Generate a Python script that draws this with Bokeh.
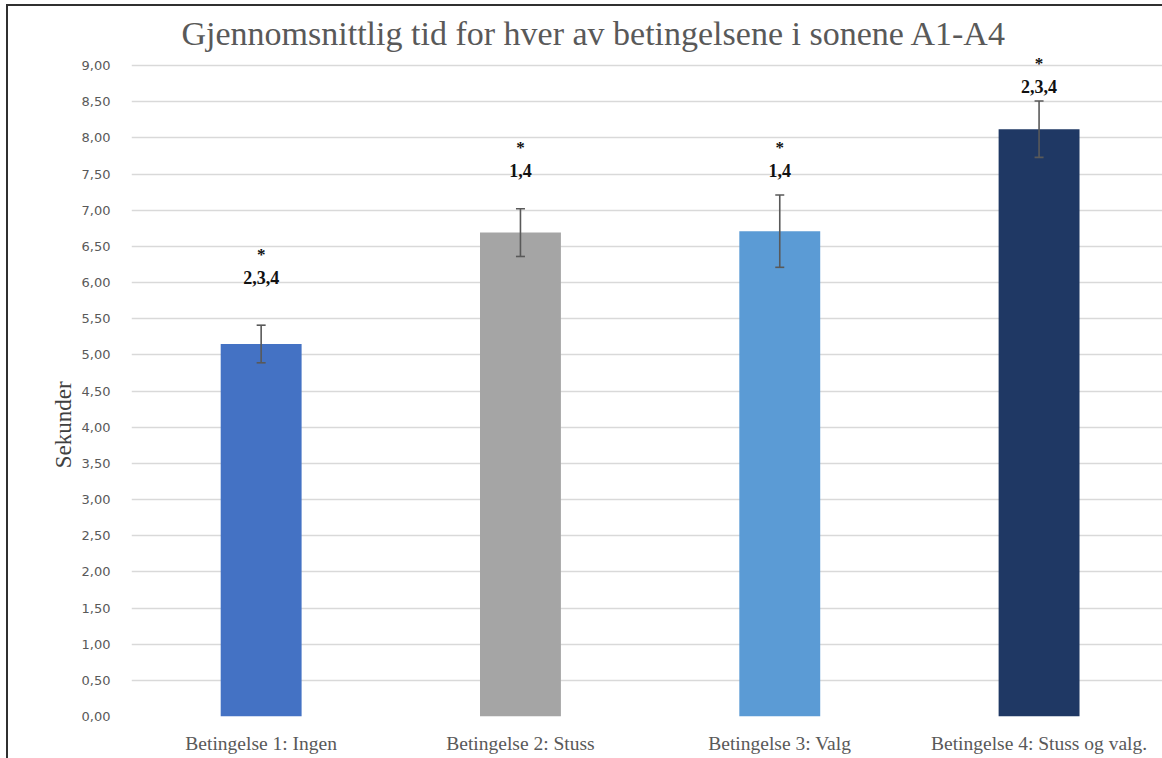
from bokeh.plotting import figure
from bokeh.models import Range1d, ColumnDataSource, Whisker, TeeHead, FixedTicker, Div
from bokeh.layouts import column
from bokeh.core.properties import value
from bokeh.embed import file_html
from bokeh.resources import INLINE

# ---- data ----
categories = ["Betingelse 1: Ingen", "Betingelse 2: Stuss", "Betingelse 3: Valg", "Betingelse 4: Stuss og valg."]
means = [5.15, 6.69, 6.71, 8.12]
errors = [0.26, 0.33, 0.50, 0.39]
sig_labels = ["2,3,4", "1,4", "1,4", "2,3,4"]
sig_y = [6.07, 7.55, 7.55, 8.71]
bar_colors = ["#4472C4", "#A5A5A5", "#5B9BD5", "#1F3864"]
y_ticks = [0.0, 0.5, 1.0, 1.5, 2.0, 2.5, 3.0, 3.5, 4.0, 4.5, 5.0, 5.5, 6.0, 6.5, 7.0, 7.5, 8.0, 8.5, 9.0]
y_tick_labels = ["0,00", "0,50", "1,00", "1,50", "2,00", "2,50", "3,00", "3,50", "4,00", "4,50",
                 "5,00", "5,50", "6,00", "6,50", "7,00", "7,50", "8,00", "8,50", "9,00"]

xpos = [i + 0.5 for i in range(len(categories))]

src = ColumnDataSource(dict(
    x=xpos, top=means,
    upper=[m + e for m, e in zip(means, errors)],
    lower=[m - e for m, e in zip(means, errors)],
    color=bar_colors, sig=sig_labels, sig_y=sig_y,
    star=["*"] * len(categories),
))

p = figure(
    x_range=Range1d(0.0, 3.976),
    y_range=Range1d(0, 9.18),
    width=1154, height=752,
    output_backend="svg", toolbar_location=None,
    min_border_left=123, min_border_right=0, min_border_top=46, min_border_bottom=42,
)
p.margin = 0

p.title.text = "Gjennomsnittlig tid for hver av betingelsene i sonene A1-A4"
p.title.text_font = "Liberation Serif"
p.title.text_font_size = "34px"
p.title.text_font_style = "normal"
p.title.text_color = "#595959"
p.title.align = "left"
p.title.offset = 50
p.title.standoff = 2

p.outline_line_color = None
p.background_fill_color = "white"
p.border_fill_color = "white"

p.vbar(x="x", top="top", width=0.312, color="color", line_color=None, source=src)

wh = Whisker(base="x", upper="upper", lower="lower", source=src, level="overlay",
             line_color="#595959", line_width=1.6,
             upper_head=TeeHead(size=9, line_color="#595959", line_width=1.6),
             lower_head=TeeHead(size=9, line_color="#595959", line_width=1.6))
p.add_layout(wh)

p.text(x="x", y="sig_y", text="sig", source=src, text_align="center", text_baseline="middle",
       text_font=value("Liberation Serif"), text_font_style="bold", text_font_size="18px",
       text_color="#111111")
p.text(x="x", y="sig_y", text="star", source=src, text_align="center", text_baseline="middle",
       y_offset=-23, text_font=value("Liberation Serif"), text_font_style="bold",
       text_font_size="17px", text_color="#111111")

# axes
p.yaxis.ticker = FixedTicker(ticks=y_ticks)
p.yaxis.major_label_overrides = {t: l for t, l in zip(y_ticks, y_tick_labels)}
p.yaxis.major_label_text_font = "DejaVu Sans"
p.yaxis.major_label_text_font_size = "13px"
p.yaxis.major_label_text_color = "#595959"
p.yaxis.major_label_standoff = 15
p.yaxis.axis_line_color = None
p.yaxis.major_tick_line_color = None
p.yaxis.minor_tick_line_color = None
p.yaxis.axis_label = "Sekunder" + "\u00a0" * 14
p.yaxis.axis_label_text_font = "Liberation Serif"
p.yaxis.axis_label_text_font_size = "23px"
p.yaxis.axis_label_text_font_style = "normal"
p.yaxis.axis_label_text_color = "#404040"
p.yaxis.axis_label_standoff = 3

p.xaxis.ticker = FixedTicker(ticks=xpos)
p.xaxis.major_label_overrides = {x: c for x, c in zip(xpos, categories)}
p.xaxis.major_label_text_font = "Liberation Serif"
p.xaxis.major_label_text_font_size = "19.5px"
p.xaxis.major_label_text_color = "#595959"
p.xaxis.major_label_standoff = 10
p.xaxis.axis_line_color = None
p.xaxis.major_tick_line_color = None
p.xaxis.minor_tick_line_color = None

p.xgrid.grid_line_color = None
p.ygrid.grid_line_color = "#d9d9d9"
p.ygrid.grid_line_width = 1.5

top_rule = Div(text="", width=1154, height=2, margin=0,
               styles={"background-color": "#303030"})

page = column(top_rule, p, spacing=0, margin=0,
              styles={"border-left": "2px solid #303030", "margin-left": "6px", "margin-top": "4px"})

open("out.html", "w").write(file_html(page, INLINE))
